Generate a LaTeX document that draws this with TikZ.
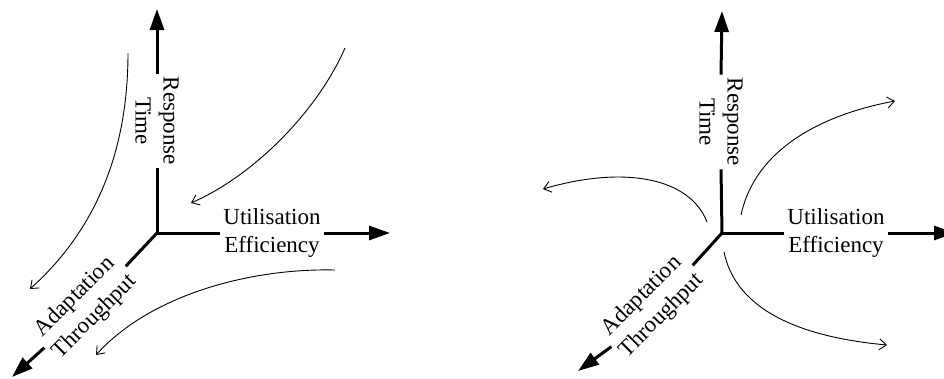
\documentclass[tikz,border=0pt]{standalone}
\usepackage{fontspec}
\setmainfont{Liberation Serif}
\usetikzlibrary{arrows.meta}
\begin{document}
\begin{tikzpicture}[x=1pt,y=1pt,
  axis/.style={line width=3pt, -{Triangle[length=21pt,width=14pt]}},
  axisline/.style={line width=3pt},
  lbl/.style={font=\fontsize{23}{28}\selectfont, align=center, inner sep=3pt},
  trend/.style={line width=0.9pt, -{Straight Barb[length=7pt,width=11pt,line width=0.9pt]}}]
\useasboundingbox (0,0) rectangle (944,-378);

% ---- left: trends converging towards the origin ----
\coordinate (o1) at (157,-233);
\coordinate (up1) at (157,-9);
\coordinate (rt1) at (390,-233);
\coordinate (dg1) at (12,-377);
\node[lbl, rotate=-90] (rsp1) at (157,-121) {Response\\Time};
\node[lbl] (utl1) at (272,-233) {Utilisation\\Efficiency};
\node[lbl, rotate=45] (adp1) at (85,-307) {Adaptation\\Throughput};
\draw[axisline] (o1) -- (rsp1.east);
\draw[axis] (rsp1.west) -- (up1);
\draw[axisline] (o1) -- (utl1.west);
\draw[axis] (utl1.east) -- (rt1);
\draw[axisline] (o1) -- (adp1.east);
\draw[axis] (adp1.west) -- (dg1);

\coordinate (a1s) at (128,-53);  \coordinate (a1e) at (30,-289);
\coordinate (b1s) at (345,-48);  \coordinate (b1e) at (191,-203);
\coordinate (c1s) at (335,-270); \coordinate (c1e) at (96,-355);
\draw[trend] (a1s) .. controls (128,-160) and (90,-235) .. (a1e);
\draw[trend] (b1s) .. controls (318,-110) and (255,-175) .. (b1e);
\draw[trend] (c1s) .. controls (250,-268) and (150,-295) .. (c1e);

% ---- right: trends diverging from the origin ----
\coordinate (o2) at (722,-233);
\coordinate (up2) at (722,-11);
\coordinate (rt2) at (955,-233);
\coordinate (dg2) at (578,-371);
\node[lbl, rotate=-90] (rsp2) at (721,-122) {Response\\Time};
\node[lbl] (utl2) at (836,-233) {Utilisation\\Efficiency};
\node[lbl, rotate=45] (adp2) at (652,-306) {Adaptation\\Throughput};
\draw[axisline] (o2) -- (rsp2.east);
\draw[axis] (rsp2.west) -- (up2);
\draw[axisline] (o2) -- (utl2.west);
\draw[axis] (utl2.east) -- (rt2);
\draw[axisline] (o2) -- (adp2.east);
\draw[axis] (adp2.west) -- (dg2);

\coordinate (a2s) at (707,-222); \coordinate (a2e) at (543,-189);
\coordinate (b2s) at (741,-215); \coordinate (b2e) at (895,-101);
\coordinate (c2s) at (724,-252); \coordinate (c2e) at (887,-345);
\draw[trend] (a2s) .. controls (690,-178) and (625,-165) .. (a2e);
\draw[trend] (b2s) .. controls (755,-150) and (820,-115) .. (b2e);
\draw[trend] (c2s) .. controls (736,-310) and (800,-337) .. (c2e);
\end{tikzpicture}
\end{document}
